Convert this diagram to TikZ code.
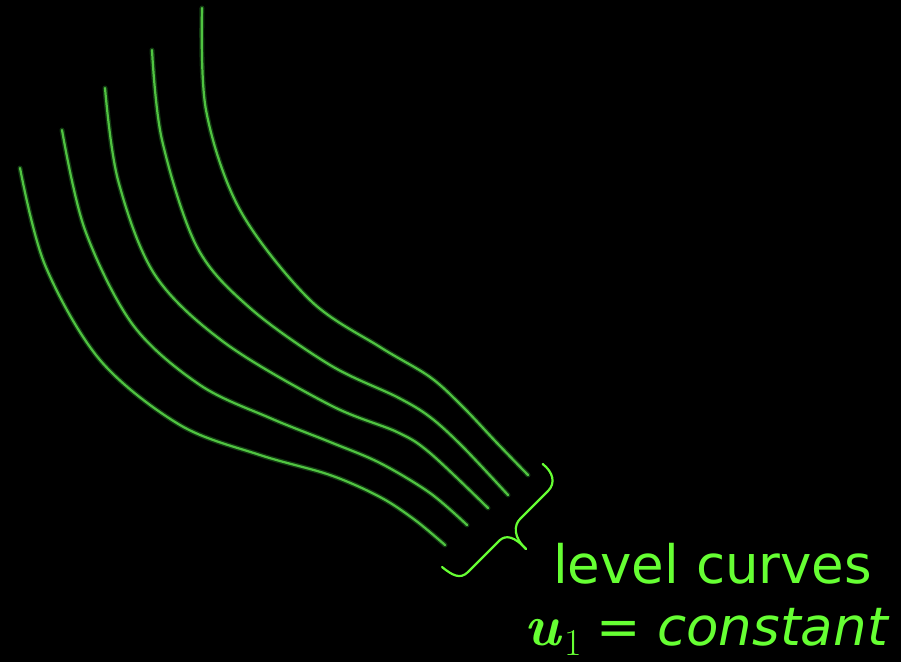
\documentclass[tikz,border=0pt]{standalone}
\usepackage{fontspec}
\newfontfamily\dv{DejaVu Sans}
\definecolor{txtgreen}{RGB}{102,255,51}
\definecolor{curvegreen}{RGB}{80,195,65}
\definecolor{glowgreen}{RGB}{22,70,22}
\begin{document}
\begin{tikzpicture}[x=1pt,y=-1pt,
  glow/.style={draw=glowgreen,line width=5pt,line cap=round,opacity=0.8},
  levelcurve/.style={draw=curvegreen,line width=2.2pt,line cap=round},
  bracepath/.style={draw=txtgreen,line width=2.2pt,line cap=round,line join=round},
  lbl/.style={text=txtgreen,inner sep=0pt,font=\dv\fontsize{53}{60}\selectfont}]
\fill[black] (0,0) rectangle (901,662);
\useasboundingbox (0,0) rectangle (901,662);
\foreach \st in {glow,levelcurve}{
  \draw[\st] plot[smooth,tension=0.55] coordinates {(202,8) (206,110) (240,210) (310,300) (380,347) (430,377) (463,407) (497,443) (528,475)};
  \draw[\st] plot[smooth,tension=0.55] coordinates {(152,50) (162,140) (197,247) (250,308) (330,365) (397,397) (430,417) (463,447) (508,495)};
  \draw[\st] plot[smooth,tension=0.55] coordinates {(105,88) (118,180) (155,275) (225,343) (330,405) (397,432) (430,453) (488,508)};
  \draw[\st] plot[smooth,tension=0.55] coordinates {(62,130) (85,230) (133,325) (200,385) (270,418) (330,442) (380,463) (430,493) (467,525)};
  \draw[\st] plot[smooth,tension=0.55] coordinates {(20,168) (45,265) (100,360) (180,425) (260,455) (330,475) (380,497) (415,520) (445,545)};
}
\draw[bracepath] (542.7,464) .. controls (553,472) and (556,483) .. (548,491) -- (520,519) .. controls (514,525) and (513,537) .. (526,549);
\draw[bracepath] (442,567) .. controls (452,575) and (460,580) .. (468,572) -- (500,540) .. controls (506,535) and (514,536) .. (526,549);
\node[lbl,anchor=base west] (l1) at (553,583) {level curves};
\node[lbl,anchor=base west,font=\rmfamily\bfseries\itshape\fontsize{58}{60}\selectfont] (u) at (524,645) {u};
\node[lbl,anchor=base west,font=\rmfamily\fontsize{38}{40}\selectfont] (sub) at (564,655) {1};
\node[lbl,anchor=base east] (eq) at (888,645) {= \itshape constant};
\end{tikzpicture}
\end{document}
